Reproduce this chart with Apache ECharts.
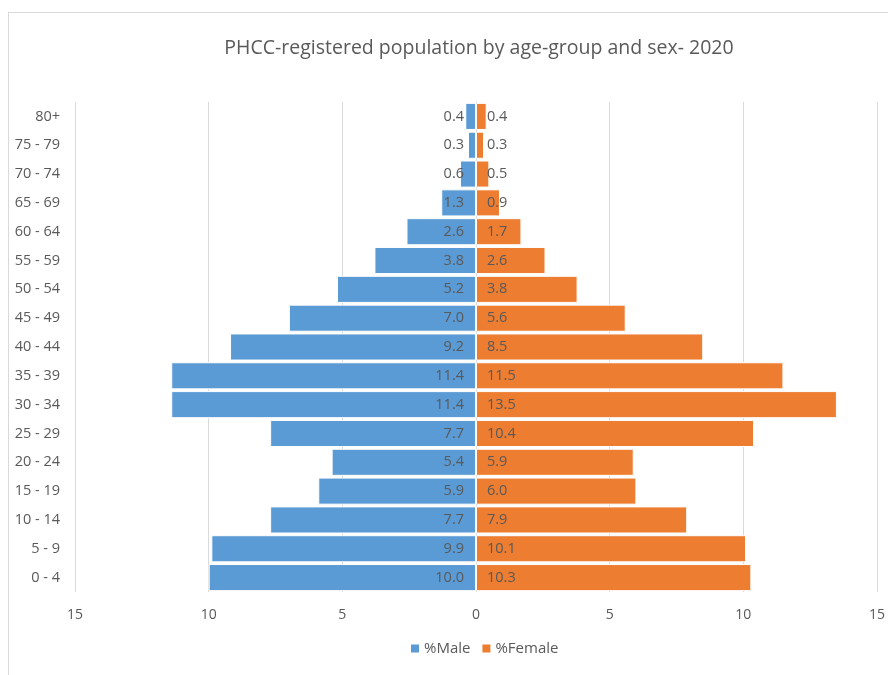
<!DOCTYPE html>
<html>
<head>
<meta charset="utf-8">
<script src="https://cdn.jsdelivr.net/npm/echarts@6/dist/echarts.min.js"></script>
<style>
html,body{margin:0;padding:0;background:#fff;overflow:hidden;}
#frame{position:absolute;left:8px;top:12px;width:1000px;height:1000px;border:1px solid #d9d9d9;box-sizing:border-box;}
#chart{position:absolute;left:0;top:0;width:888px;height:675px;}
</style>
</head>
<body>
<div id="frame"></div>
<div id="chart"></div>
<script>
const categories = ['0 - 4','5 - 9','10 - 14','15 - 19','20 - 24','25 - 29','30 - 34','35 - 39','40 - 44','45 - 49','50 - 54','55 - 59','60 - 64','65 - 69','70 - 74','75 - 79','80+'];
const male = [10.0, 9.9, 7.7, 5.9, 5.4, 7.7, 11.4, 11.4, 9.2, 7.0, 5.2, 3.8, 2.6, 1.3, 0.6, 0.3, 0.4];
const female = [10.3, 10.1, 7.9, 6.0, 5.9, 10.4, 13.5, 11.5, 8.5, 5.6, 3.8, 2.6, 1.7, 0.9, 0.5, 0.3, 0.4];
const xTicks = {min: -15, max: 15, interval: 5};

const FONT = '"Open Sans", "Noto Sans", sans-serif';
const TXT = '#595959';
const chart = echarts.init(document.getElementById('chart'));
chart.setOption({
  animation: false,
  textStyle: {fontFamily: FONT},
  title: {
    text: 'PHCC-registered population by age-group and sex- 2020',
    left: 474, top: 33, textAlign: 'center',
    textStyle: {fontFamily: FONT, fontSize: 19.5, fontWeight: 'normal', color: TXT}
  },
  legend: {
    top: 636, left: 404,
    itemWidth: 10, itemHeight: 10, itemGap: 10,
    icon: 'rect',
    textStyle: {fontFamily: FONT, fontSize: 15, color: TXT, padding: [0,0,0,-1]},
    data: ['%Male','%Female']
  },
  grid: {left: 75, right: 4, top: 102, bottom: 83, containLabel: false},
  xAxis: {
    type: 'value', min: xTicks.min, max: xTicks.max, interval: xTicks.interval,
    axisLine: {show: false}, axisTick: {show: false},
    splitLine: {show: true, lineStyle: {color: '#d9d9d9', width: 1}},
    axisLabel: {color: TXT, fontSize: 14, fontFamily: FONT, margin: 16, formatter: v => String(Math.abs(v))}
  },
  yAxis: {
    type: 'category', data: categories,
    axisLine: {show: false, onZero: false}, axisTick: {show: false},
    axisLabel: {color: TXT, fontSize: 14.5, fontFamily: FONT, margin: 15}
  },
  series: [
    {
      name: '%Male', type: 'bar', data: male.map(v => -v),
      barGap: '-100%', barCategoryGap: '6%',
      itemStyle: {color: '#5B9BD5', borderColor: '#fff', borderWidth: 1},
      label: {show: true, position: 'insideRight', distance: 12, color: TXT, fontSize: 14.5, fontFamily: FONT,
        formatter: p => Math.abs(p.value).toFixed(1)}
    },
    {
      name: '%Female', type: 'bar', data: female,
      barGap: '-100%', barCategoryGap: '6%',
      itemStyle: {color: '#ED7D31', borderColor: '#fff', borderWidth: 1},
      label: {show: true, position: 'insideLeft', distance: 11, color: TXT, fontSize: 14.5, fontFamily: FONT,
        formatter: p => p.value.toFixed(1)}
    }
  ]
});
</script>
</body>
</html>
